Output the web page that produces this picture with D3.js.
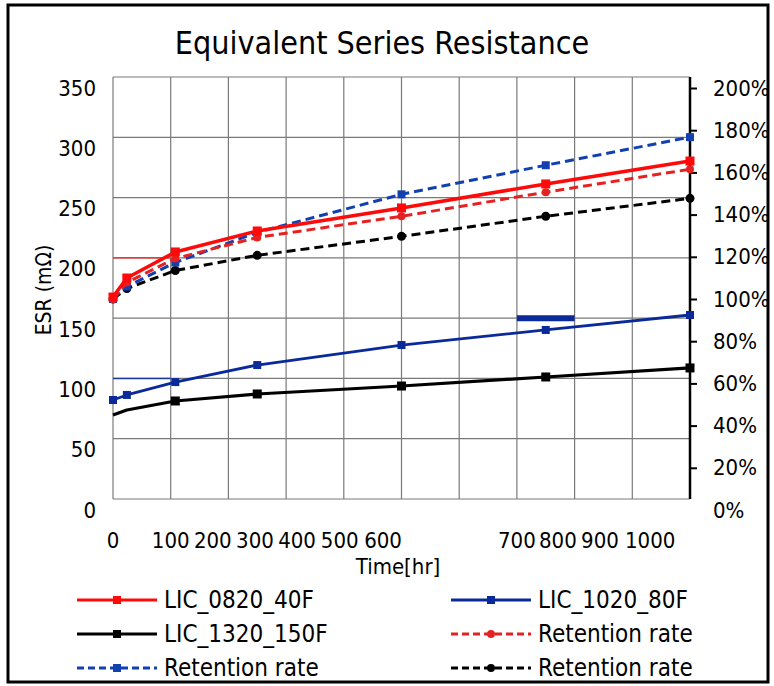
<!DOCTYPE html>
<html><head><meta charset="utf-8">
<script src="https://cdn.jsdelivr.net/npm/d3@7"></script>
<style>
html,body{margin:0;padding:0;background:#fff;}
text{font-family:"DejaVu Sans Condensed","DejaVu Sans",sans-serif;font-stretch:condensed;fill:#000;}
</style></head>
<body>
<svg id="chart" width="774" height="686"></svg>
<script>
// ---- data ----
const times = [0, 24, 108, 250, 500, 750, 1000];
const esr0820 = [167.5, 183.3, 204.9, 222.3, 241.4, 261.3, 280.3];
const esr1020 = [82.1, 86.3, 97.0, 111.1, 127.7, 140.2, 152.6];
const esr1320 = [69.7, 73.8, 81.3, 87.1, 93.7, 101.2, 108.7];
const ret0820 = [100, 107.8, 119.2, 129.2, 139.2, 150.6, 161.5];
const ret1020 = [100, 105.9, 117.3, 131.6, 149.6, 163.4, 176.7];
const ret1320 = [100, 105.0, 113.5, 120.7, 129.7, 139.2, 147.7];
const leftTicks = [0, 50, 100, 150, 200, 250, 300, 350];
const rightTicks = [0, 20, 40, 60, 80, 100, 120, 140, 160, 180, 200];
const xTickLabels = ["0", "100", "200", "300", "400", "500", "600", "700", "800", "900", "1000"];
const xTickAt = [0, 100, 173, 246, 319, 393, 468, 700, 771, 844, 931];
const xGrid = [0, 100, 200, 300, 400, 500, 600, 700, 800, 900, 1000];
const segY = [200, 100, 150];
const segX0 = [0, 0, 700];
const segX1 = [100, 100, 800];

const svg = d3.select("#chart");
const L = 113, R = 690, T = 77, B = 499;

const x = d3.scaleLinear().domain([0, 1000]).range([L, R]);
const yL = d3.scaleLinear().domain([0, 350]).range([B, T]);
const yLabel = d3.scaleLinear().domain([0, 350]).range([510, 88]);
const yR = d3.scaleLinear().domain([0, 200]).range([510, 88]);

// frame
svg.append("rect").attr("x", 8).attr("y", 5).attr("width", 760).attr("height", 677)
  .attr("fill", "#fff").attr("stroke", "#000").attr("stroke-width", 3);

// title
svg.append("text").attr("x", 382).attr("y", 43).attr("text-anchor", "middle")
  .attr("dominant-baseline", "central").style("font-size", "32px")
  .text("Equivalent Series Resistance");

// grid
const g = svg.append("g");
g.selectAll("line.h").data(leftTicks).join("line")
  .attr("x1", L).attr("x2", R).attr("y1", d => yL(d)).attr("y2", d => yL(d))
  .attr("stroke", "#7a7a7a").attr("stroke-width", 1.2);
g.selectAll("line.v").data(xGrid).join("line")
  .attr("y1", T).attr("y2", B).attr("x1", d => x(d)).attr("x2", d => x(d))
  .attr("stroke", "#7a7a7a").attr("stroke-width", 1.2);

// overlay segments
const segColors = ["#ff2020", "#1a3aa0", "#0a2a9a"];
const segWidths = [1.2, 1.5, 6];
segY.forEach((v, i) => {
  svg.append("line").attr("x1", x(segX0[i])).attr("x2", x(segX1[i]))
    .attr("y1", yL(v)).attr("y2", yL(v))
    .attr("stroke", segColors[i]).attr("stroke-width", segWidths[i]);
});

// left tick labels
svg.append("g").selectAll("text").data(leftTicks).join("text")
  .attr("x", 96).attr("y", d => yLabel(d)).attr("text-anchor", "end")
  .attr("dominant-baseline", "central").style("font-size", "22px")
  .text(d => d);

// right axis
const rAxis = svg.append("g").attr("transform", `translate(${R},0)`)
  .call(d3.axisRight(yR).tickValues(rightTicks.filter(d => yR(d) >= T && yR(d) <= B)).tickSize(7).tickFormat(""));
rAxis.select(".domain").remove();
rAxis.selectAll(".tick line").attr("stroke", "#000").attr("stroke-width", 2);
svg.append("line").attr("x1", R).attr("x2", R).attr("y1", T).attr("y2", B)
  .attr("stroke", "#000").attr("stroke-width", 2.5);
svg.append("g").selectAll("text").data(rightTicks).join("text")
  .attr("x", 713).attr("y", d => yR(d)).attr("dominant-baseline", "central")
  .style("font-size", "22px").text(d => d + "%");

// x tick labels
svg.append("g").selectAll("text").data(xTickLabels).join("text")
  .attr("x", (d, i) => x(xTickAt[i])).attr("y", 540).attr("text-anchor", "middle")
  .attr("dominant-baseline", "central").style("font-size", "22px").text(d => d);

svg.append("text").attr("x", 398).attr("y", 566).attr("text-anchor", "middle")
  .attr("dominant-baseline", "central").style("font-size", "22px").text("Time[hr]");
svg.append("text").attr("transform", "translate(44,290) rotate(-90)").attr("text-anchor", "middle")
  .attr("dominant-baseline", "central").style("font-size", "21px").text("ESR (mΩ)");

// series
const series = [
  {name: "Retention rate", vals: ret1320, y: yR, color: "#000", dash: "9,5", marker: "circle", size: 9, w: 3},
  {name: "Retention rate", vals: ret1020, y: yR, color: "#1240b0", dash: "9,5", marker: "square", size: 8, w: 3},
  {name: "Retention rate", vals: ret0820, y: yR, color: "#e52222", dash: "9,5", marker: "circle", size: 8, w: 3},
  {name: "LIC_0820_40F", vals: esr0820, y: yL, color: "#ff0a0a", dash: null, marker: "square", size: 9, w: 3.5},
  {name: "LIC_1020_80F", vals: esr1020, y: yL, color: "#0a2a9a", dash: null, marker: "square", size: 8, w: 2.8},
  {name: "LIC_1320_150F", vals: esr1320, y: yL, color: "#000", dash: null, marker: "square", size: 9, w: 3.2, skip: [0, 1]}
];

series.forEach(s => {
  const pts = times.map((t, i) => [t, s.vals[i], i]);
  const line = d3.line().x(d => x(d[0])).y(d => s.y(d[1]));
  svg.append("path").datum(pts).attr("d", line).attr("fill", "none")
    .attr("stroke", s.color).attr("stroke-width", s.w)
    .attr("stroke-linejoin", "round")
    .attr("stroke-dasharray", s.dash);
  const mk = pts.filter(d => !(s.skip || []).includes(d[2]));
  if (s.marker === "circle") {
    svg.append("g").selectAll("circle").data(mk).join("circle")
      .attr("cx", d => x(d[0])).attr("cy", d => s.y(d[1])).attr("r", s.size / 2)
      .attr("fill", s.color);
  } else {
    svg.append("g").selectAll("rect").data(mk).join("rect")
      .attr("x", d => x(d[0]) - s.size / 2).attr("y", d => s.y(d[1]) - s.size / 2)
      .attr("width", s.size).attr("height", s.size).attr("fill", s.color);
  }
});

// legend
const legendItems = [
  {s: 3, col: 0, row: 0}, {s: 4, col: 1, row: 0},
  {s: 5, col: 0, row: 1}, {s: 2, col: 1, row: 1},
  {s: 1, col: 0, row: 2}, {s: 0, col: 1, row: 2}
];
const colX = [77, 451], rowY = [600, 634, 668];
legendItems.forEach(it => {
  const s = series[it.s];
  const x0 = colX[it.col], yy = rowY[it.row];
  const lg = svg.append("g");
  lg.append("line").attr("x1", x0).attr("x2", x0 + 80).attr("y1", yy).attr("y2", yy)
    .attr("stroke", s.color).attr("stroke-width", 3)
    .attr("stroke-dasharray", s.dash ? "7,4" : null);
  if (s.marker === "circle") {
    lg.append("circle").attr("cx", x0 + 40).attr("cy", yy).attr("r", 4).attr("fill", s.color);
  } else {
    lg.append("rect").attr("x", x0 + 36).attr("y", yy - 4).attr("width", 8).attr("height", 8).attr("fill", s.color);
  }
  lg.append("text").attr("x", x0 + 87).attr("y", yy).attr("dominant-baseline", "central")
    .style("font-size", "24px").text(s.name);
});
</script>
</body></html>
